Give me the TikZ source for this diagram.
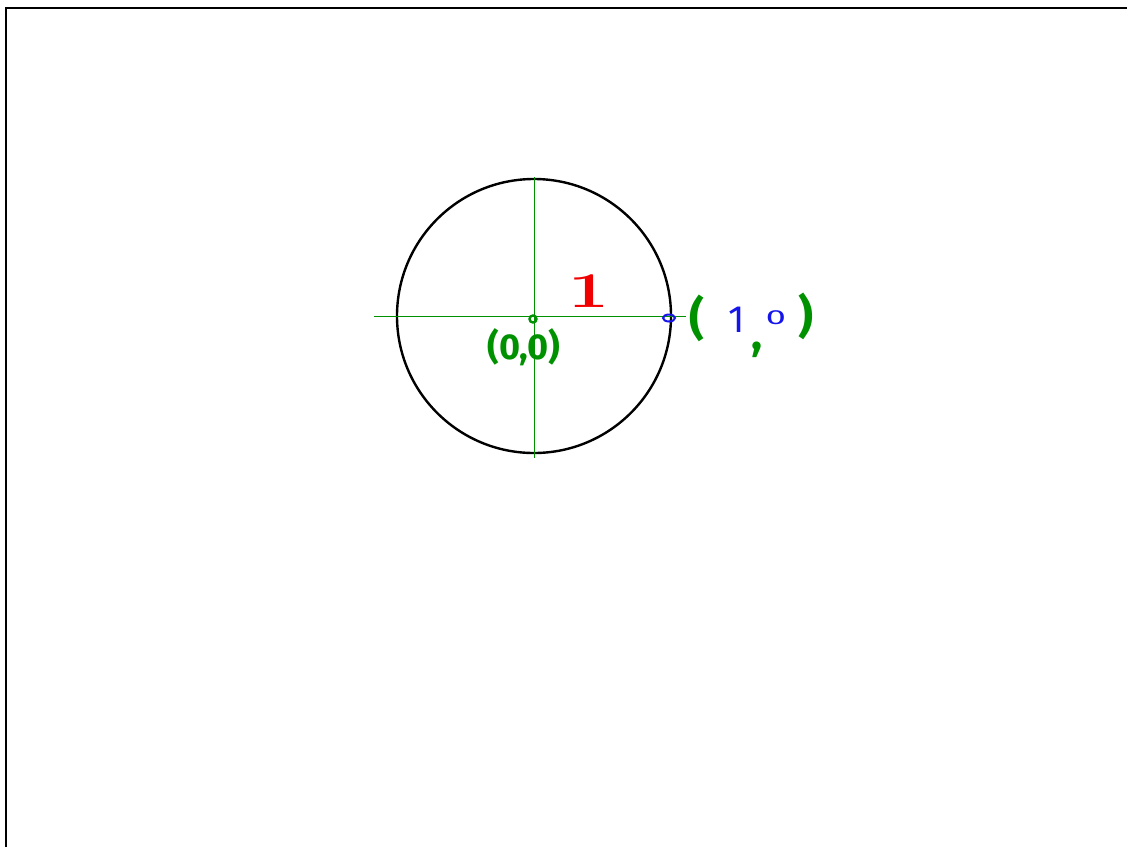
\documentclass[tikz,border=0pt]{standalone}
\usepackage{fontspec}
\setsansfont{Fira Sans}
\usetikzlibrary{positioning}
\definecolor{penGreen}{RGB}{0,145,0}
\definecolor{penBlue}{RGB}{20,20,235}
\definecolor{penRed}{RGB}{240,0,0}
\tikzset{axis/.style={draw=penGreen,line width=1pt},greenpen/.style={inner sep=0pt,text=penGreen,font=\sffamily\bfseries\fontsize{36}{38}\selectfont},bluepen/.style={inner sep=0pt,text=penBlue,font=\sffamily\fontsize{38}{40}\selectfont},bigparen/.style={greenpen,font=\sffamily\bfseries\fontsize{46}{48}\selectfont}}

\begin{document}
\begin{tikzpicture}[x=1pt,y=-1pt]
\useasboundingbox (0,0) rectangle (1127,847);
\draw[line width=2pt] (6,847) -- (6,8) -- (1127,8);
\coordinate (o) at (534,316);
\draw[line width=2.4pt] (o) circle[radius=137pt];
\coordinate (xl) at (374,316);
\coordinate (xr) at (686,316);
\coordinate (yt) at (534,177);
\coordinate (yb) at (534,458);
\draw[axis] (xl) -- (xr);
\draw[axis] (yt) -- (yb);
\draw[draw=penGreen,line width=2.4pt] (533,319) circle[radius=3.5pt];
\draw[draw=penBlue,line width=2pt] (669,318) ellipse[x radius=6pt,y radius=3.5pt];
\node[text=penRed,inner sep=0pt,font=\bfseries\fontsize{50}{52}\selectfont,xscale=1.45,transform shape] (one) at (589,291) {1};
\node[greenpen] (origin) at (524,347) {(0,0)};
\node[bigparen] (lp) at (697,318) {(};
\node[bluepen] (x1) at (737,320) {1};
\node[bigparen] (cm) at (757,350) {,};
\node[bluepen,font=\sffamily\fontsize{24}{26}\selectfont,xscale=1.5,yscale=0.85,transform shape] (x0) at (776,318) {0};
\node[bigparen] (rp) at (806,316) {)};
\end{tikzpicture}
\end{document}
